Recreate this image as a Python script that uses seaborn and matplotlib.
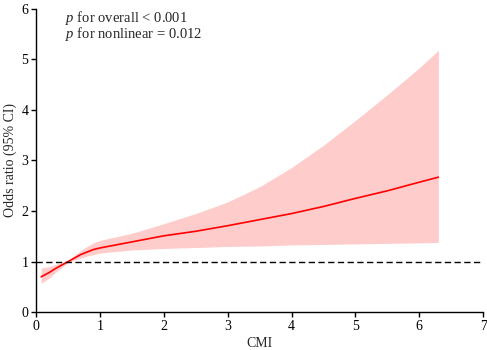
import numpy as np
import pandas as pd
import matplotlib
matplotlib.use("Agg")
import matplotlib.pyplot as plt
import seaborn as sns

# Values
cmi = [0.08, 0.2, 0.3, 0.4, 0.5, 0.6, 0.7, 0.8, 0.9, 1.0, 1.25, 1.5, 1.75, 2.0, 2.5,
       3.0, 3.5, 4.0, 4.5, 5.0, 5.5, 6.0, 6.3]
odds = [0.70, 0.78, 0.86, 0.93, 1.00, 1.07, 1.14, 1.19, 1.24, 1.27, 1.33, 1.39, 1.45,
        1.51, 1.60, 1.71, 1.83, 1.95, 2.09, 2.25, 2.40, 2.57, 2.67]
ci_low = [0.57, 0.67, 0.78, 0.88, 0.98, 1.03, 1.07, 1.11, 1.14, 1.17, 1.20, 1.23, 1.245,
          1.26, 1.28, 1.30, 1.31, 1.33, 1.34, 1.35, 1.36, 1.37, 1.38]
ci_high = [0.87, 0.90, 0.94, 0.98, 1.02, 1.12, 1.22, 1.30, 1.37, 1.42, 1.49, 1.56, 1.655,
           1.75, 1.95, 2.18, 2.48, 2.86, 3.30, 3.79, 4.30, 4.83, 5.18]
x_ticks = [0, 1, 2, 3, 4, 5, 6, 7]
y_ticks = [0, 1, 2, 3, 4, 5, 6]
ref_line = 1
annot = ["$p$ for overall < 0.001", "$p$ for nonlinear = 0.012"]

df = pd.DataFrame({"CMI": cmi, "OR": odds, "lo": ci_low, "hi": ci_high})

sns.set_style("ticks")
plt.rcParams["font.family"] = ["Liberation Serif", "DejaVu Serif"]
plt.rcParams["mathtext.fontset"] = "custom"
plt.rcParams["mathtext.rm"] = "Liberation Serif"
plt.rcParams["mathtext.it"] = "Liberation Serif:italic"

fig = plt.figure(figsize=(4.87, 3.5), dpi=100)
ax = fig.add_axes([0.074, 0.108, 0.918, 0.867])

ax.fill_between(df["CMI"], df["lo"], df["hi"], color="#ffcccc", linewidth=0)
sns.lineplot(data=df, x="CMI", y="OR", ax=ax, color="#ff0000", linewidth=1.2)
ax.axhline(ref_line, color="black", linestyle=(0, (4.5, 2.5)), linewidth=1.0)

ax.set_xlim(x_ticks[0], x_ticks[-1])
ax.set_ylim(y_ticks[0], y_ticks[-1])
ax.set_xticks(x_ticks)
ax.set_yticks(y_ticks)
ax.tick_params(axis="both", labelsize=10, length=3.5, width=1.0, color="black",
               labelcolor="black", pad=2)
for s in ["left", "bottom"]:
    ax.spines[s].set_linewidth(1.0)
    ax.spines[s].set_color("black")
sns.despine(ax=ax)

ax.set_xlabel("CMI", fontsize=10, labelpad=3)
ax.set_ylabel("Odds ratio (95% CI)", fontsize=10, labelpad=3)

ax.text(0.065, 0.957, annot[0], transform=ax.transAxes, fontsize=10.5, va="baseline", ha="left")
ax.text(0.065, 0.9025, annot[1], transform=ax.transAxes, fontsize=10.5, va="baseline", ha="left")

fig.savefig("out.png", dpi=100)
